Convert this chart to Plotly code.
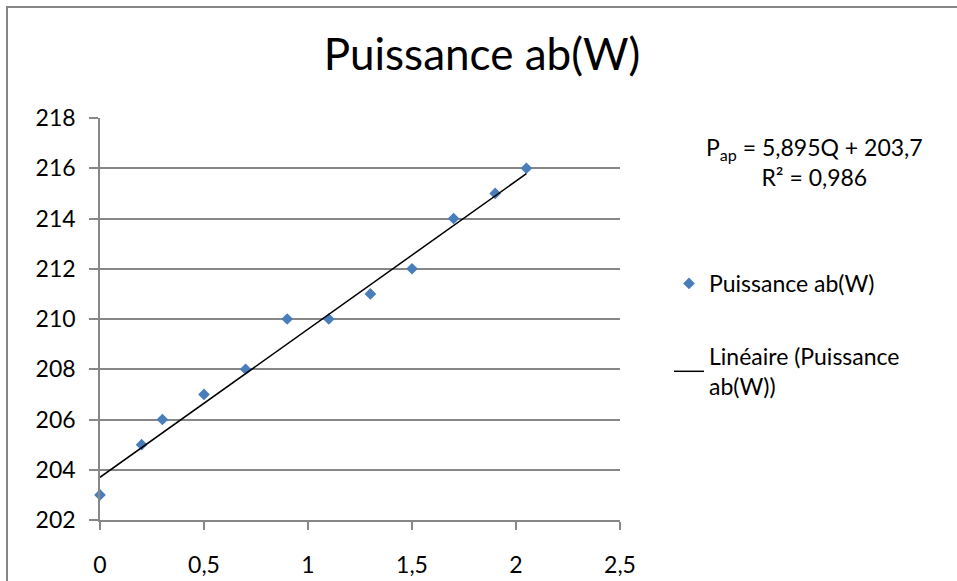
import plotly.graph_objects as go

# Data
q_values = [0, 0.2, 0.3, 0.5, 0.7, 0.9, 1.1, 1.3, 1.5, 1.7, 1.9, 2.05]
p_values = [203, 205, 206, 207, 208, 210, 210, 211, 212, 214, 215, 216]
series_name = "Puissance ab(W)"
trend_name = "Linéaire (Puissance<br>ab(W))"
slope = 5.895
intercept = 203.7
r_squared = 0.986
x_ticks = [0, 0.5, 1, 1.5, 2, 2.5]
y_ticks = [202, 204, 206, 208, 210, 212, 214, 216, 218]

FONT = "Lato"
GRID = "#878787"

trend_x = [min(q_values), max(q_values)]
trend_y = [slope * x + intercept for x in trend_x]

fig = go.Figure()
fig.add_trace(go.Scatter(
    x=q_values, y=p_values, mode="markers", name=series_name,
    marker=dict(symbol="diamond", size=9, color="#4a7ebb"),
    legendgroup="a", cliponaxis=False,
))
fig.add_trace(go.Scatter(
    x=trend_x, y=trend_y, mode="lines", name=trend_name,
    line=dict(color="black", width=1.5),
    legendgroup="b",
))

L, R, T, B = 100, 337, 118, 61
W, H = 957, 581
pw, ph = W - L - R, H - T - B

def px_x(p):
    return (p - L) / pw

def px_y(p):
    return (H - B - p) / ph

eq_text = ("P<sub>ap</sub> = " + f"{slope:.3f}".replace(".", ",") + "Q + "
           + f"{intercept:.1f}".replace(".", ",") + "<br>R² = "
           + f"{r_squared:.3f}".replace(".", ","))

fig.update_layout(
    width=W, height=H,
    margin=dict(l=L, r=R, t=T, b=B, autoexpand=False),
    paper_bgcolor="white", plot_bgcolor="white",
    separators=", ",
    font=dict(family=FONT, color="black", size=23),
    title=dict(text="Puissance ab(W)", xref="container", x=482 / W, xanchor="center",
               y=1 - 55 / H, yanchor="middle",
               font=dict(family=FONT, size=44, color="black")),
    xaxis=dict(range=[0, 2.5], tickvals=x_ticks, showgrid=False,
               zeroline=False, showline=True, linecolor=GRID, linewidth=1.5,
               ticks="outside", ticklen=8, tickcolor=GRID, tickwidth=1.5,
               ticklabelstandoff=16, automargin=False,
               tickfont=dict(family=FONT, size=23, color="black")),
    yaxis=dict(range=[202, 218], tickvals=y_ticks, showgrid=True,
               gridcolor=GRID, gridwidth=1.5, zeroline=False,
               showline=True, linecolor=GRID, linewidth=1.5,
               ticks="outside", ticklen=9, tickcolor=GRID, tickwidth=1.5,
               ticklabelstandoff=9, automargin=False,
               tickfont=dict(family=FONT, size=23, color="black")),
    showlegend=True,
    legend=dict(x=px_x(669), y=px_y(262), xanchor="left", yanchor="top",
                font=dict(family=FONT, size=23, color="black"),
                tracegroupgap=40, bgcolor="rgba(0,0,0,0)"),
    shapes=[dict(type="rect", xref="paper", yref="paper",
                 x0=px_x(7), x1=px_x(1100), y0=px_y(7), y1=px_y(700),
                 line=dict(color="#868686", width=2), layer="below")],
    annotations=[dict(text=eq_text, xref="paper", yref="paper",
                      x=px_x(814), y=px_y(162), xanchor="center", yanchor="middle",
                      showarrow=False, align="center",
                      font=dict(family=FONT, size=23, color="black"))],
)

fig.write_html("out.html", config={"displayModeBar": False},
               post_script="document.body.style.margin='0';")
